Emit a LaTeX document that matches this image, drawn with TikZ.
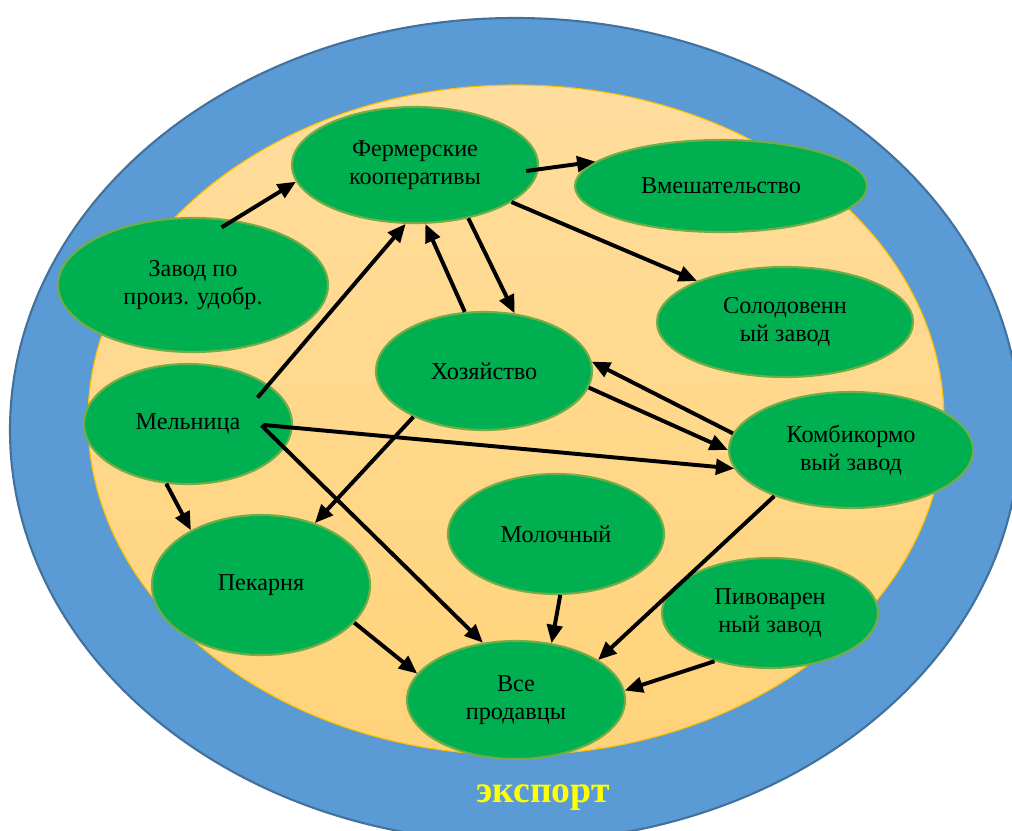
\documentclass[tikz,border=0pt]{standalone}
\usepackage{fontspec}
\setmainfont{Liberation Serif}
\usepackage[RGB]{xcolor}
\usetikzlibrary{shapes.geometric,arrows.meta}
\definecolor{sea}{RGB}{91,155,213}
\definecolor{seaedge}{RGB}{65,113,156}
\definecolor{landtop}{RGB}{255,221,157}
\definecolor{landbot}{RGB}{255,211,122}
\definecolor{landedge}{RGB}{255,192,0}
\definecolor{farm}{RGB}{0,176,80}
\definecolor{farmedge}{RGB}{112,173,71}
\definecolor{exportcol}{RGB}{255,255,0}
\newcommand{\drawlink}{\draw[line width=2.8pt,-{Triangle[length=13pt,width=11pt]}]}
\tikzset{site/.style 2 args={ellipse, draw=farmedge, fill=farm, line width=1.5pt, inner sep=0pt, align=center,
    minimum width={#1*0.025cm}, minimum height={#2*0.025cm}, font=\fontsize{17.2}{19.5}\selectfont}}

\begin{document}
\begin{tikzpicture}[x=0.025cm,y=-0.025cm]
\useasboundingbox (0,0) rectangle (1012,830);
\clip (0,0) rectangle (1012,830);
\draw[seaedge, fill=sea, line width=1.5pt] (515,430) ellipse [x radius=505, y radius=412];
\draw[landedge, top color=landtop, bottom color=landbot, line width=0.8pt] (516,420) ellipse [x radius=428, y radius=335];
\node[site={246}{116}] (ferm) at (415,165) {Фермерские\\кооперативы};
\node[site={292}{92}] (vmesh) at (721,186) {Вмешательство};
\node[site={270}{134}] (zavod) at (193,285) {Завод по\\произ. удобр.};
\node[site={256}{110}] (solod) at (785,322) {Солодовенн\\ый завод};
\node[site={216}{118}] (hoz) at (484,371) {Хозяйство};
\node[site={208}{120}] (mel) at (188,424) {Мельница};
\node[site={244}{116}] (komb) at (851,450) {Комбикормо\\вый завод};
\node[site={218}{140}] (pek) at (261,585) {Пекарня};
\node[site={216}{120}] (mol) at (556,534) {Молочный};
\node[site={216}{110}] (piv) at (770,613) {Пивоварен\\ный завод};
\node[site={218}{118}] (vse) at (516,700) {Все\\продавцы};
\node[text=exportcol, font=\bfseries\fontsize{26.8}{30}\selectfont] (export) at (543,798) {экспорт};
\drawlink[shorten <=-10pt] (zavod.58) -- (ferm.188);
\drawlink[shorten <=-9pt] (ferm.358) -- (vmesh.169);
\drawlink (ferm.339) -- (solod.155);
\drawlink (ferm.315) -- (hoz.62);
\drawlink (hoz.108) -- (ferm.280);
\drawlink[shorten <=-12pt] (mel.26) -- (ferm.261);
\drawlink[shorten <=-21pt] (mel.358) -- (komb.189);
\drawlink (mel.250) -- (pek.142);
\drawlink[shorten <=-23pt] (mel.346) -- (vse.120);
\drawlink (hoz.213) -- (pek.49);
\drawlink (hoz.351) -- (komb.180);
\drawlink (komb.172) -- (hoz.5);
\drawlink (komb.211) -- (vse.26);
\drawlink (pek.338) -- (vse.165);
\drawlink (mol.274) -- (vse.58);
\drawlink (piv.221) -- (vse.5);
\end{tikzpicture}
\end{document}
